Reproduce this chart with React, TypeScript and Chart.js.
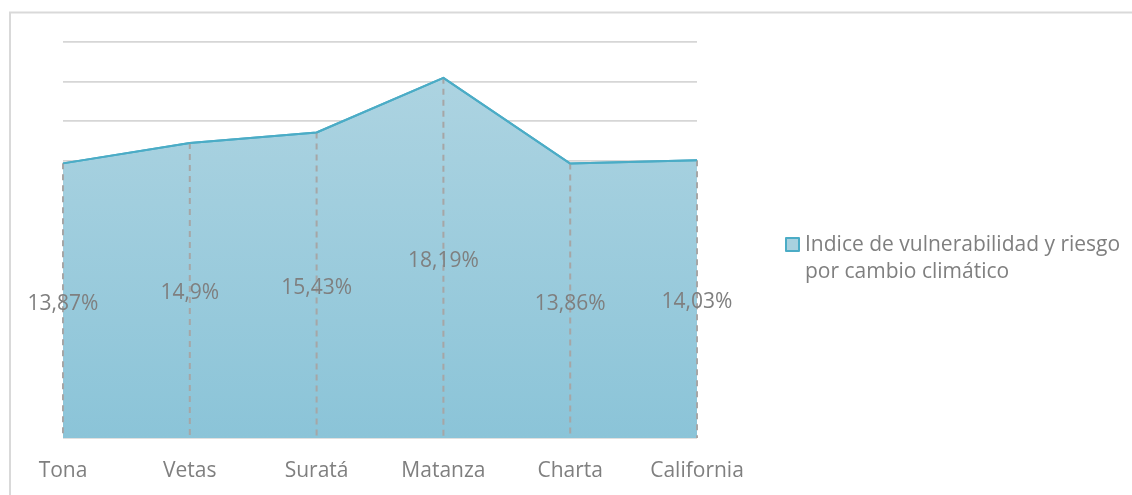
import React, { useEffect, useRef } from "react";
import { Chart, registerables } from "chart.js";

Chart.register(...registerables);

const categories = ["Tona", "Vetas", "Suratá", "Matanza", "Charta", "California"];
const values = [13.87, 14.9, 15.43, 18.19, 13.86, 14.03];
const valueLabels = ["13,87%", "14,9%", "15,43%", "18,19%", "13,86%", "14,03%"];
const seriesName = "Indice de vulnerabilidad y riesgo";
const seriesNameLine2 = "por cambio climático";
const yMin = 0;
const yMax = 20;
const yStep = 2;

const FONT = '"Open Sans", "Noto Sans", sans-serif';
const TEXT = "#7f7f7f";

const overlayPlugin = {
  id: "overlay",
  beforeDraw(chart: any) {
    const ctx = chart.ctx;
    ctx.save();
    ctx.fillStyle = "#ffffff";
    ctx.fillRect(0, 0, chart.width, chart.height);
    ctx.strokeStyle = "#d9d9d9";
    ctx.lineWidth = 2;
    ctx.beginPath();
    ctx.moveTo(10, chart.height);
    ctx.lineTo(10, 12.5);
    ctx.lineTo(chart.width, 12.5);
    ctx.stroke();
    ctx.restore();
  },
  afterDatasetsDraw(chart: any) {
    const ctx = chart.ctx;
    const meta = chart.getDatasetMeta(0);
    const yScale = chart.scales.y;
    const base = yScale.getPixelForValue(0);
    ctx.save();
    ctx.strokeStyle = "#a6a6a6";
    ctx.lineWidth = 2;
    ctx.setLineDash([6, 5]);
    meta.data.forEach((pt: any) => {
      ctx.beginPath();
      ctx.moveTo(pt.x, pt.y);
      ctx.lineTo(pt.x, base);
      ctx.stroke();
    });
    ctx.setLineDash([]);
    ctx.strokeStyle = "#4bacc6";
    ctx.lineWidth = 2;
    ctx.lineJoin = "round";
    ctx.beginPath();
    meta.data.forEach((pt: any, i: number) => {
      if (i === 0) ctx.moveTo(pt.x, pt.y);
      else ctx.lineTo(pt.x, pt.y);
    });
    ctx.stroke();
    ctx.fillStyle = TEXT;
    ctx.font = `21px ${FONT}`;
    ctx.textAlign = "center";
    ctx.textBaseline = "middle";
    meta.data.forEach((pt: any, i: number) => {
      const y = yScale.getPixelForValue(values[i] / 2) + 3;
      ctx.fillText(valueLabels[i], pt.x, y);
    });
    ctx.fillStyle = "#a9d1df";
    ctx.fillRect(786, 238, 13, 13);
    ctx.strokeStyle = "#4bacc6";
    ctx.lineWidth = 2;
    ctx.strokeRect(786, 238, 13, 13);
    ctx.fillStyle = TEXT;
    ctx.textAlign = "left";
    ctx.fillText(seriesName, 805, 245);
    ctx.fillText(seriesNameLine2, 805, 272);
    ctx.restore();
  },
};

export default function App() {
  const ref = useRef<HTMLCanvasElement | null>(null);
  useEffect(() => {
    document.body.style.margin = "0";
    const canvas = ref.current;
    if (!canvas) return;
    const chart = new Chart(canvas, {
      type: "line",
      data: {
        labels: categories,
        datasets: [
          {
            label: seriesName,
            data: values,
            fill: "origin",
            borderColor: "#4bacc6",
            borderWidth: 2,
            pointRadius: 0,
            tension: 0,
            backgroundColor: (c: any) => {
              const area = c.chart.chartArea;
              if (!area) return "#a0cddd";
              const g = c.chart.ctx.createLinearGradient(0, area.top, 0, area.bottom);
              g.addColorStop(0, "#b0d5e2");
              g.addColorStop(1, "#8bc4d8");
              return g;
            },
          },
        ],
      },
      options: {
        animation: false,
        responsive: false,
        devicePixelRatio: 1,
        layout: { padding: { left: 63, right: 435, top: 42, bottom: 0 } },
        plugins: { legend: { display: false }, tooltip: { enabled: false } },
        scales: {
          x: {
            offset: false,
            grid: { display: false, drawTicks: false },
            border: { display: false },
            ticks: {
              color: TEXT,
              font: { family: FONT, size: 21 },
              padding: 20,
              maxRotation: 0,
              autoSkip: false,
            },
            afterFit: (s: any) => {
              s.height = 57;
            },
          },
          y: {
            min: yMin,
            max: yMax,
            ticks: { display: false, stepSize: yStep },
            grid: { color: "#d6d6d6", lineWidth: 1.8, drawTicks: false },
            border: { display: false },
            afterFit: (s: any) => {
              s.width = 0;
            },
          },
        },
      },
      plugins: [overlayPlugin],
    });
    return () => chart.destroy();
  }, []);
  return <canvas ref={ref} width={1132} height={495} style={{ display: "block" }} />;
}
